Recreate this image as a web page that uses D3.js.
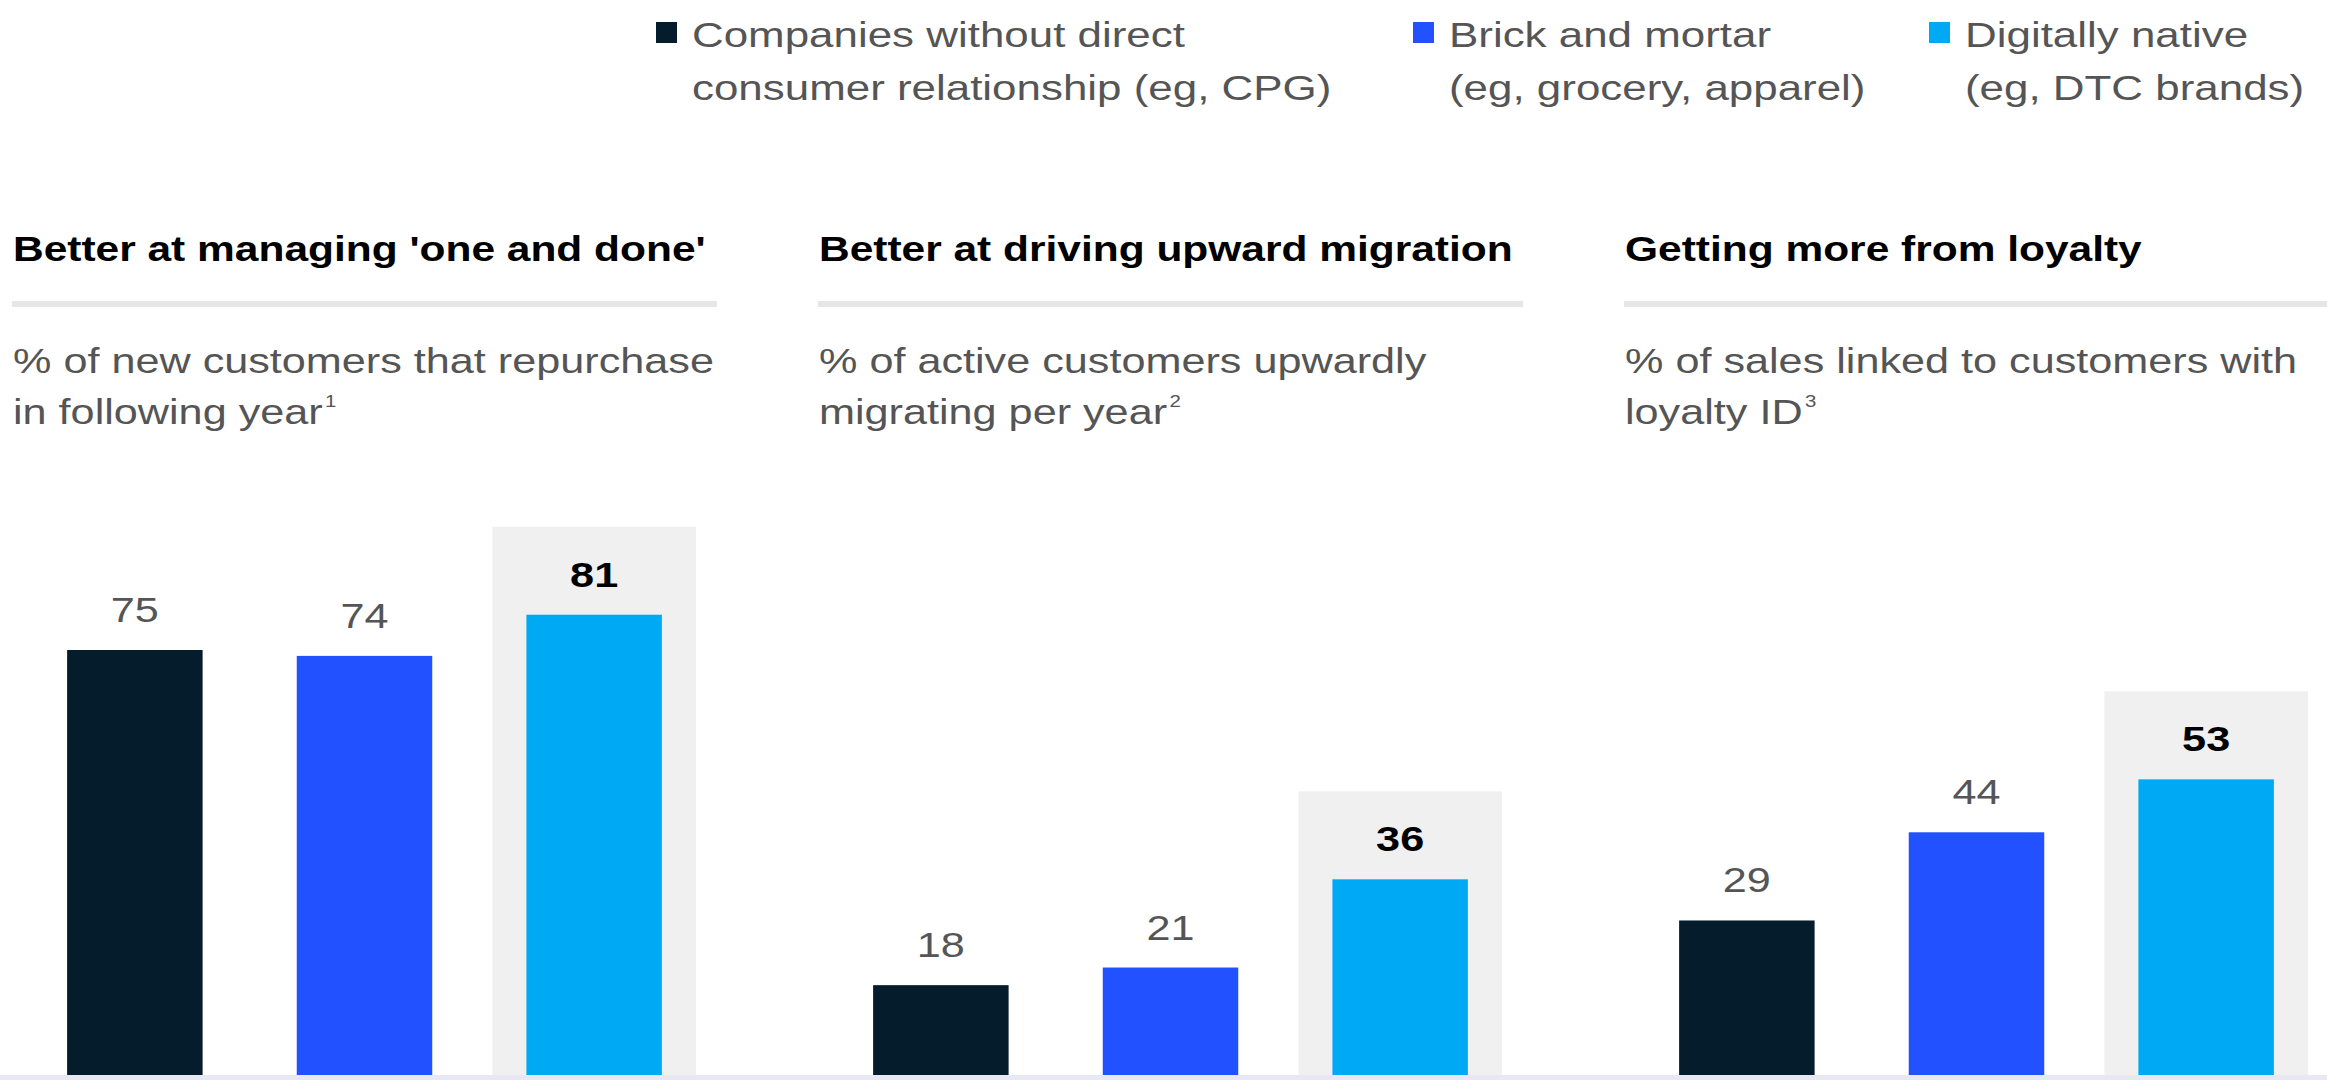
<!DOCTYPE html>
<html>
<head>
<meta charset="utf-8">
<script src="https://cdn.jsdelivr.net/npm/d3@7"></script>
<style>
  html, body { margin: 0; padding: 0; background: #fff; }
  svg { display: block; }
  text { font-family: 'Liberation Sans', Arial, sans-serif; }
</style>
</head>
<body>
<script>
// values
let categories = ['Companies without direct consumer relationship', 'Brick and mortar', 'Digitally native']
let legendLines = [
  ['Companies without direct', 'consumer relationship (eg, CPG)'],
  ['Brick and mortar', '(eg, grocery, apparel)'],
  ['Digitally native', '(eg, DTC brands)']
]
let panelTitles = [
  "Better at managing 'one and done'",
  'Better at driving upward migration',
  'Getting more from loyalty'
]
let panelSubtitles = [
  ['% of new customers that repurchase', 'in following year', '1'],
  ['% of active customers upwardly', 'migrating per year', '2'],
  ['% of sales linked to customers with', 'loyalty ID', '3']
]
let oneAndDone = [75, 74, 81]
let upwardMigration = [18, 21, 36]
let loyalty = [29, 44, 53]
let highlighted = 'Digitally native'

let panels = [oneAndDone, upwardMigration, loyalty]

let width = 2327
let height = 1080
let stretch = 1.2 // the reference type is set wide

let svg = d3
  .select('body')
  .append('svg')
  .attr('width', width)
  .attr('height', height)

let colorScale = d3
  .scaleOrdinal()
  .domain(categories)
  .range(['#051c2c', '#2251ff', '#00a9f4'])

// one shared value scale for the three panels
let yPositionScale = d3.scaleLinear().domain([0, 100]).range([1091, 503])

let panelWidth = 705
let xPositionScale = d3
  .scaleBand()
  .domain(categories)
  .range([0, panelWidth])
  .paddingInner(0.41)
  .paddingOuter(0.24)

function addText(g, x, y, str, size, color, weight, anchor, sx) {
  return g
    .append('text')
    .attr('transform', `translate(${x},${y}) scale(${sx || stretch},1)`)
    .attr('font-size', size)
    .attr('fill', color)
    .attr('font-weight', weight || 'normal')
    .attr('text-anchor', anchor || 'start')
    .text(str)
}

// legend
let legendX = [656, 1413, 1929]
let legend = svg.append('g').attr('class', 'legend')
categories.forEach((c, i) => {
  legend
    .append('rect')
    .attr('x', legendX[i])
    .attr('y', 22)
    .attr('width', 21)
    .attr('height', 21)
    .attr('fill', colorScale(c))
  legendLines[i].forEach((line, j) => {
    addText(legend, legendX[i] + 36, 47 + j * 53, line, 36, '#555', 'normal', 'start', 1.22)
  })
})

// panels
let panelLeft = [12, 818, 1624]

panels.forEach((values, p) => {
  let g = svg
    .append('g')
    .attr('class', 'panel')
    .attr('transform', `translate(${panelLeft[p]},0)`)

  addText(g, 1, 261, panelTitles[p], 36, '#000', 'bold', 'start', 1.18)

  g.append('rect')
    .attr('x', 0)
    .attr('y', 301)
    .attr('width', panelWidth)
    .attr('height', 6)
    .attr('fill', '#e6e6e6')

  addText(g, 1, 373, panelSubtitles[p][0], 36, '#555')
  let sub2 = addText(g, 1, 424, panelSubtitles[p][1], 36, '#555')
  sub2
    .append('tspan')
    .attr('font-size', 17)
    .attr('dy', -17)
    .attr('dx', 2)
    .text(panelSubtitles[p][2])

  let datapoints = categories.map((c, i) => ({ category: c, value: values[i] }))

  // grey box behind the highlighted bar
  let hl = datapoints.find(d => d.category === highlighted)
  g.append('rect')
    .attr('x', xPositionScale(hl.category) - 34)
    .attr('y', yPositionScale(hl.value) - 88)
    .attr('width', xPositionScale.bandwidth() + 68)
    .attr('height', height - yPositionScale(hl.value) + 88)
    .attr('fill', '#f0f0f0')

  g.selectAll('.bar')
    .data(datapoints)
    .enter()
    .append('rect')
    .attr('class', 'bar')
    .attr('x', d => xPositionScale(d.category))
    .attr('y', d => yPositionScale(d.value))
    .attr('width', xPositionScale.bandwidth())
    .attr('height', d => yPositionScale(0) - yPositionScale(d.value))
    .attr('fill', d => colorScale(d.category))

  datapoints.forEach(d => {
    let isHl = d.category === highlighted
    addText(
      g,
      xPositionScale(d.category) + xPositionScale.bandwidth() / 2,
      yPositionScale(d.value) - 28,
      d.value,
      36,
      isHl ? '#000' : '#555',
      isHl ? 'bold' : 'normal',
      'middle'
    )
  })
})

// thin lavender strip along the bottom edge
svg
  .append('rect')
  .attr('x', 0)
  .attr('y', 1075)
  .attr('width', width)
  .attr('height', 5)
  .attr('fill', '#e8e8f5')
</script>
</body>
</html>
